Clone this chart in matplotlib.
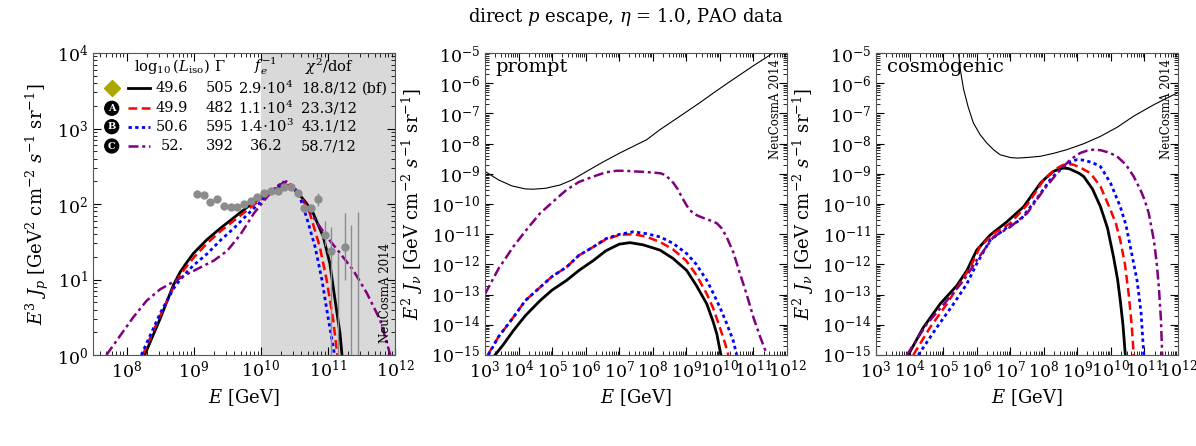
import matplotlib.pyplot as plt
import numpy as np
from matplotlib.ticker import LogLocator, NullFormatter

plt.rcParams['font.family'] = ['DejaVu Serif']
plt.rcParams['mathtext.fontset'] = 'dejavuserif'

# ---- left panel: UHECR proton spectra, log10(E/GeV) vs log10(E^3 J_p) ----
p_bf_x = [8.27, 8.5, 8.7, 8.8, 8.9, 9.0, 9.2, 9.4, 9.6, 9.8, 10.0, 10.2, 10.35, 10.45, 10.58,
          10.68, 10.78, 10.93, 11.03, 11.10, 11.18, 11.21]
p_bf_y = [0.0, 0.48, 0.93, 1.1, 1.23, 1.35, 1.53, 1.68, 1.82, 1.96, 2.08, 2.19, 2.25, 2.24, 2.12,
          2.01, 1.88, 1.57, 1.21, 0.77, 0.29, 0.0]
p_a_x = [8.24, 8.5, 8.7, 8.8, 8.9, 9.0, 9.2, 9.4, 9.6, 9.8, 10.0, 10.2, 10.35, 10.45, 10.58,
         10.73, 10.88, 10.98, 11.08, 11.14]
p_a_y = [0.0, 0.52, 0.9, 1.06, 1.18, 1.29, 1.48, 1.64, 1.78, 1.92, 2.06, 2.19, 2.26, 2.24, 2.13,
         1.88, 1.43, 1.0, 0.46, 0.0]
p_b_x = [8.22, 8.5, 8.7, 8.8, 8.9, 9.0, 9.2, 9.4, 9.6, 9.8, 10.0, 10.2, 10.33, 10.45, 10.58,
         10.68, 10.81, 10.91, 11.01, 11.10]
p_b_y = [0.0, 0.55, 0.88, 1.0, 1.1, 1.19, 1.34, 1.52, 1.68, 1.86, 2.03, 2.2, 2.29, 2.25, 2.10,
         1.83, 1.43, 1.0, 0.46, 0.0]
p_c_x = [7.70, 7.9, 8.1, 8.3, 8.5, 8.7, 8.9, 9.1, 9.3, 9.5, 9.7, 9.9, 10.1, 10.25, 10.38, 10.5,
         10.63, 10.78, 10.98, 11.18, 11.38, 11.58, 11.78, 11.93]
p_c_y = [0.0, 0.25, 0.5, 0.72, 0.87, 0.97, 1.07, 1.16, 1.25, 1.38, 1.6, 1.88, 2.1, 2.24, 2.30, 2.22,
         2.05, 1.83, 1.57, 1.35, 1.12, 0.82, 0.46, 0.0]

# PAO data points (log10 E, log10 E^3J, log err down, log err up)
pao_x = [9.05, 9.15, 9.25, 9.35, 9.45, 9.55, 9.65, 9.75, 9.85, 9.95, 10.05, 10.15, 10.25, 10.35,
         10.45, 10.55, 10.65, 10.75, 10.85, 10.95, 11.05, 11.25]
pao_y = [2.13, 2.115, 2.02, 2.06, 1.97, 1.955, 1.96, 2.0, 2.04, 2.09, 2.15, 2.17, 2.17, 2.23,
         2.22, 2.15, 1.95, 1.95, 2.06, 1.59, 1.38, 1.43]
pao_dn = [0.04, 0.03, 0.03, 0.03, 0.02, 0.02, 0.02, 0.02, 0.02, 0.02, 0.02, 0.02, 0.02, 0.02,
          0.02, 0.03, 0.04, 0.05, 0.08, 0.15, 2.0, 0.43]
pao_up = [0.04, 0.03, 0.03, 0.03, 0.02, 0.02, 0.02, 0.02, 0.02, 0.02, 0.02, 0.02, 0.02, 0.02,
          0.02, 0.03, 0.04, 0.05, 0.08, 0.18, 0.32, 0.45]
# bins with only an upper edge shown (bar down to the frame)
lim_x = [11.15, 11.35, 11.45]
lim_y = [1.35, 1.72, 1.90]

# ---- middle panel: prompt neutrinos ----
sens_pr_x = [3.0, 3.4, 3.8, 4.2, 4.44, 4.8, 5.24, 5.6, 6.03, 6.5, 7.02, 7.4, 7.82, 8.2, 8.6,
             9.0, 9.41, 9.9, 10.4, 11.0, 11.59]
sens_pr_y = [-8.92, -9.2, -9.4, -9.5, -9.51, -9.48, -9.37, -9.2, -8.92, -8.62, -8.31, -8.1,
             -7.87, -7.55, -7.25, -6.95, -6.64, -6.25, -5.87, -5.42, -5.0]
pr_bf_x = [3.3, 3.55, 3.84, 4.2, 4.64, 5.0, 5.43, 5.8, 6.23, 6.6, 7.0, 7.32, 7.7, 8.0, 8.22,
           8.6, 9.01, 9.3, 9.61, 9.8, 9.91, 10.03]
pr_bf_y = [-15.0, -14.65, -14.2, -13.7, -13.2, -12.85, -12.53, -12.2, -11.87, -11.55, -11.33,
           -11.28, -11.35, -11.45, -11.53, -11.8, -12.2, -12.7, -13.31, -13.9, -14.31, -15.0]
pr_a_x = [3.08, 3.4, 3.84, 4.2, 4.64, 5.0, 5.43, 5.8, 6.23, 6.6, 7.02, 7.42, 7.8, 8.22, 8.6,
          8.99, 9.3, 9.61, 9.8, 10.0, 10.15, 10.25]
pr_a_y = [-15.0, -14.4, -13.76, -13.2, -12.76, -12.4, -12.09, -11.7, -11.42, -11.17, -11.02,
          -11.0, -11.08, -11.26, -11.5, -11.87, -12.35, -12.98, -13.45, -14.09, -14.6, -15.0]
pr_b_x = [3.1, 3.4, 3.84, 4.2, 4.64, 5.0, 5.43, 5.8, 6.23, 6.6, 7.02, 7.42, 7.8, 8.22, 8.6,
          9.01, 9.3, 9.61, 9.8, 10.0, 10.2, 10.4, 10.5]
pr_b_y = [-15.0, -14.4, -13.76, -13.2, -12.76, -12.4, -12.09, -11.7, -11.42, -11.15, -11.0,
          -10.92, -10.98, -11.09, -11.3, -11.64, -12.0, -12.53, -12.95, -13.42, -13.95, -14.53, -15.0]
pr_c_x = [3.0, 3.4, 3.84, 4.2, 4.64, 5.0, 5.43, 5.8, 6.23, 6.6, 6.92, 7.2, 7.42, 7.8, 8.22,
          8.35, 8.5, 8.62, 8.75, 8.88, 9.01, 9.1, 9.25, 9.41, 9.6, 9.8, 9.91, 10.05, 10.2,
          10.4, 10.6, 10.8, 11.0, 11.2, 11.4]
pr_c_y = [-12.98, -12.15, -11.42, -10.9, -10.31, -9.95, -9.53, -9.27, -9.09, -8.95, -8.9, -8.9,
          -8.92, -8.94, -8.98, -9.03, -9.17, -9.31, -9.52, -9.8, -10.05, -10.2, -10.34, -10.42,
          -10.5, -10.58, -10.64, -10.8, -11.09, -11.6, -12.31, -13.0, -13.76, -14.4, -14.98]

# ---- right panel: cosmogenic neutrinos ----
sens_co_x = [5.46, 5.52, 5.61, 5.75, 5.9, 6.1, 6.3, 6.5, 6.7, 7.0, 7.2, 7.5, 7.9, 8.3, 8.69,
             9.2, 9.69, 10.2, 10.68, 11.3, 12.0]
sens_co_y = [-5.0, -5.6, -6.2, -6.8, -7.31, -7.7, -7.98, -8.2, -8.37, -8.46, -8.48, -8.46, -8.42,
             -8.32, -8.2, -8.0, -7.76, -7.45, -7.09, -6.7, -6.31]
co_bf_x = [3.96, 4.41, 4.91, 5.41, 5.71, 6.0, 6.4, 6.9, 7.4, 7.9, 8.1, 8.29, 8.45, 8.6, 8.75,
           8.89, 9.05, 9.19, 9.45, 9.69, 9.9, 10.08, 10.2, 10.28, 10.36, 10.43]
co_bf_y = [-15.0, -14.09, -13.31, -12.7, -12.2, -11.53, -11.03, -10.59, -10.09, -9.31, -9.1,
           -8.92, -8.84, -8.81, -8.83, -8.9, -8.98, -9.09, -9.5, -10.09, -10.8, -11.76, -12.5,
           -13.2, -14.0, -15.0]
co_a_x = [4.11, 4.61, 5.11, 5.81, 6.1, 6.5, 7.0, 7.5, 8.0, 8.2, 8.4, 8.55, 8.69, 8.89, 9.1,
          9.39, 9.69, 9.99, 10.15, 10.28, 10.42, 10.53, 10.62, 10.68]
co_a_y = [-15.0, -14.09, -13.31, -12.09, -11.42, -10.98, -10.64, -10.03, -9.2, -8.98, -8.81,
          -8.72, -8.67, -8.70, -8.8, -8.98, -9.42, -10.2, -10.65, -11.2, -12.0, -12.98, -14.0, -15.0]
co_b_x = [4.26, 4.81, 5.31, 5.71, 6.0, 6.4, 6.9, 7.3, 7.8, 8.19, 8.4, 8.59, 8.8, 8.99, 9.2,
          9.45, 9.69, 9.99, 10.28, 10.45, 10.58, 10.78, 10.9, 10.98]
co_b_y = [-15.0, -14.09, -13.31, -12.64, -11.98, -11.2, -10.78, -10.53, -9.81, -9.2, -8.95,
          -8.76, -8.6, -8.53, -8.55, -8.63, -8.76, -9.31, -10.09, -10.7, -11.42, -12.53, -13.6, -15.0]
co_c_x = [3.92, 4.51, 5.11, 5.61, 6.0, 6.5, 7.0, 7.5, 8.0, 8.4, 8.79, 9.09, 9.3, 9.49, 9.7,
          9.95, 10.18, 10.45, 10.68, 10.88, 11.0, 11.13, 11.28, 11.36, 11.43, 11.49, 11.53]
co_c_y = [-15.0, -13.98, -13.2, -12.53, -11.87, -11.09, -10.76, -10.31, -9.53, -8.98, -8.53,
          -8.31, -8.23, -8.2, -8.22, -8.3, -8.42, -8.7, -9.09, -9.53, -9.85, -10.31, -11.2, -11.9,
          -12.76, -13.8, -15.0]

# legend table
col_head = [r'$\log_{10}(L_{\rm iso})$', r'$\Gamma$', r'$f_e^{-1}$', r'$\chi^2$/dof']
tab_lum = ['49.6', '49.9', '50.6', '52.']
tab_gamma = ['505', '482', '595', '392']
tab_fe = [r'2.9$\cdot$10$^4$', r'1.1$\cdot$10$^4$', r'1.4$\cdot$10$^3$', '36.2']
tab_chi = ['18.8/12', '23.3/12', '43.1/12', '58.7/12']
tab_tag = ['', 'A', 'B', 'C']

styles = [dict(color='black', ls='-', lw=2.0),
          dict(color='#ff0000', ls=(0, (3.5, 1.8)), lw=1.8),
          dict(color='#0000ff', ls=(0, (1.2, 1.2)), lw=2.0),
          dict(color='#800080', ls=(0, (4, 1.5, 1.2, 1.5)), lw=1.8)]


def lg(v):
    return 10.0 ** np.asarray(v, dtype=float)


def frame(ax):
    ax.set_xscale('log')
    ax.set_yscale('log')
    ax.tick_params(which='both', direction='in', top=True, right=True, labelsize=12.5)
    ax.tick_params(which='major', length=6, width=0.8)
    ax.tick_params(which='minor', length=3, width=0.6)
    for a in (ax.xaxis, ax.yaxis):
        a.set_major_locator(LogLocator(base=10, numticks=30))
        a.set_minor_locator(LogLocator(base=10, subs=np.arange(2, 10), numticks=30))
        a.set_minor_formatter(NullFormatter())
    for s in ax.spines.values():
        s.set_color('#555555')
        s.set_linewidth(0.8)


fig = plt.figure(figsize=(11.96, 4.46), dpi=100)
w, h = 302 / 1196, 302 / 446
ax1 = fig.add_axes([93 / 1196, 91 / 446, w, h])
ax2 = fig.add_axes([485 / 1196, 91 / 446, w, h])
ax3 = fig.add_axes([876 / 1196, 91 / 446, w, h])

# left panel
frame(ax1)
ax1.axvspan(1e10, 1e12, color='#d9d9d9', lw=0, zorder=0)
pao_lo = lg(pao_y) - lg(np.array(pao_y) - np.array(pao_dn))
pao_hi = lg(np.array(pao_y) + np.array(pao_up)) - lg(pao_y)
for (xs, ys), st in zip([(p_bf_x, p_bf_y), (p_a_x, p_a_y), (p_b_x, p_b_y), (p_c_x, p_c_y)],
                        styles):
    ax1.plot(lg(xs), lg(ys), zorder=3, **st)
ax1.errorbar(lg(pao_x), lg(pao_y), yerr=[pao_lo, pao_hi], fmt='o', color='#8c8c8c',
             ms=5, elinewidth=1.0, capsize=0, zorder=4)
ax1.vlines(lg(lim_x), 0.5, lg(lim_y), color='#8c8c8c', lw=1.0, zorder=4)
ax1.set_xlim(10 ** 7.5, 1e12)
ax1.set_ylim(1, 1e4)
ax1.set_xlabel(r'$E$ [GeV]', fontsize=13)
ax1.set_ylabel(r'$E^3\ J_p$ [GeV$^2$ cm$^{-2}$ $s^{-1}$ sr$^{-1}$]', fontsize=13)
ax1.text(0.968, 0.04, 'NeuCosmA 2014', rotation=90, ha='center', va='bottom',
         fontsize=8.5, transform=ax1.transAxes)

# legend table
hx = [0.262, 0.42, 0.573, 0.781]
for x, t in zip(hx, col_head):
    ax1.text(x, 0.955, t, ha='center', va='center', fontsize=10.5, transform=ax1.transAxes)
rows_y = [0.883, 0.817, 0.756, 0.692]
for i, ry in enumerate(rows_y):
    ax1.plot([0.116, 0.189], [ry, ry], transform=ax1.transAxes, clip_on=False, **styles[i])
    ax1.text(0.262, ry, tab_lum[i], ha='center', va='center', fontsize=10.5,
             transform=ax1.transAxes)
    ax1.text(0.42, ry, tab_gamma[i], ha='center', va='center', fontsize=10.5,
             transform=ax1.transAxes)
    ax1.text(0.573, ry, tab_fe[i], ha='center', va='center', fontsize=10.5,
             transform=ax1.transAxes)
    ax1.text(0.781, ry, tab_chi[i], ha='center', va='center', fontsize=10.5,
             transform=ax1.transAxes)
    if tab_tag[i]:
        ax1.text(0.062, ry, tab_tag[i], ha='center', va='center', fontsize=7, color='white',
                 fontweight='bold', transform=ax1.transAxes,
                 bbox=dict(boxstyle='circle,pad=0.25', fc='black', ec='black'))
    else:
        ax1.plot([0.062], [ry], marker='D', ms=8, color='#a8a800', transform=ax1.transAxes,
                 clip_on=False)
ax1.text(0.934, rows_y[0], '(bf)', ha='center', va='center', fontsize=10.5,
         transform=ax1.transAxes)

# middle panel
frame(ax2)
ax2.plot(lg(sens_pr_x), lg(sens_pr_y), color='black', lw=0.8)
for (xs, ys), st in zip([(pr_bf_x, pr_bf_y), (pr_a_x, pr_a_y), (pr_b_x, pr_b_y),
                         (pr_c_x, pr_c_y)], styles):
    ax2.plot(lg(xs), lg(ys), **st)
ax2.set_xlim(1e3, 1e12)
ax2.set_ylim(1e-15, 1e-5)
ax2.set_xlabel(r'$E$ [GeV]', fontsize=13)
ax2.set_ylabel(r'$E^2\ J_\nu$ [GeV cm$^{-2}$ $s^{-1}$ sr$^{-1}$]', fontsize=13)
ax2.text(0.035, 0.985, 'prompt', ha='left', va='top', fontsize=14, transform=ax2.transAxes)
ax2.text(0.962, 0.98, 'NeuCosmA 2014', rotation=90, ha='center', va='top',
         fontsize=8.5, transform=ax2.transAxes)

# right panel
frame(ax3)
ax3.plot(lg(sens_co_x), lg(sens_co_y), color='black', lw=0.8)
for (xs, ys), st in zip([(co_bf_x, co_bf_y), (co_a_x, co_a_y), (co_b_x, co_b_y),
                         (co_c_x, co_c_y)], styles):
    ax3.plot(lg(xs), lg(ys), **st)
ax3.set_xlim(1e3, 1e12)
ax3.set_ylim(1e-15, 1e-5)
ax3.set_xlabel(r'$E$ [GeV]', fontsize=13)
ax3.set_ylabel(r'$E^2\ J_\nu$ [GeV cm$^{-2}$ $s^{-1}$ sr$^{-1}$]', fontsize=13)
ax3.text(0.035, 0.985, 'cosmogenic', ha='left', va='top', fontsize=14, transform=ax3.transAxes)
ax3.text(0.962, 0.98, 'NeuCosmA 2014', rotation=90, ha='center', va='top',
         fontsize=8.5, transform=ax3.transAxes)

fig.text(0.5234, 0.962, r'direct $p$ escape, $\eta$ = 1.0, PAO data', ha='center',
         va='center', fontsize=13)

fig.savefig('out.png', dpi=100)
